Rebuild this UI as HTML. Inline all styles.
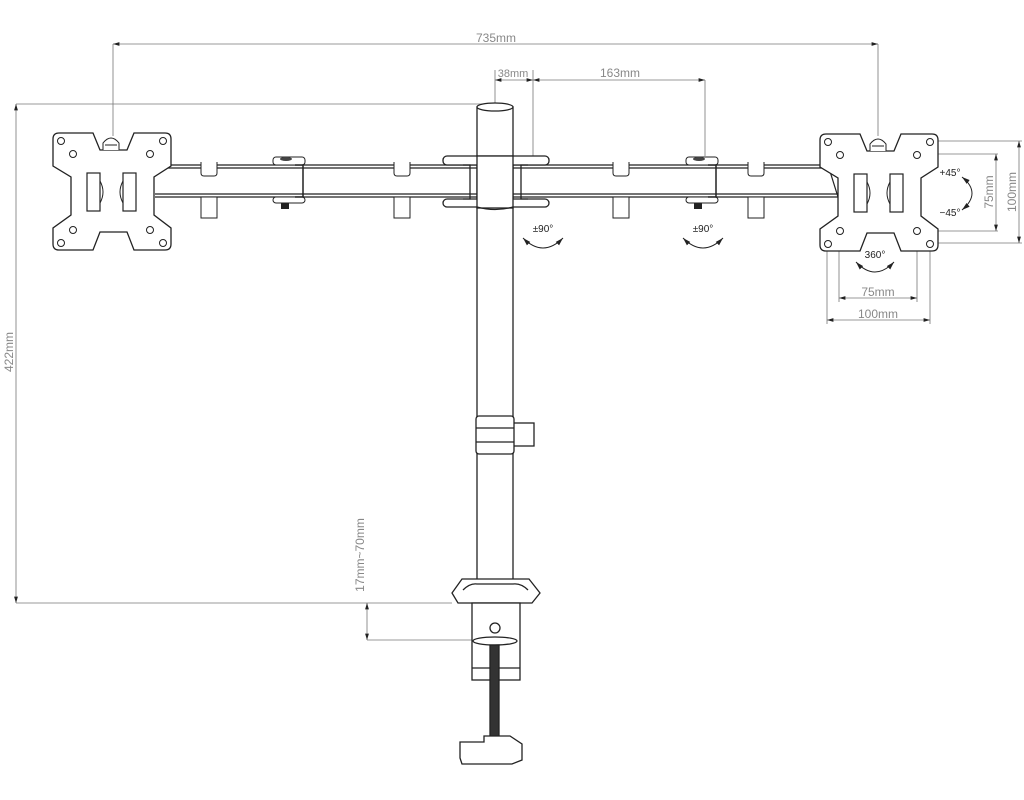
<!DOCTYPE html>
<html><head><meta charset="utf-8"><style>
html,body{margin:0;padding:0;background:#fff;}
svg{display:block;}
text{font-family:"Liberation Sans",sans-serif;fill:#888;}
</style></head><body>
<svg width="1024" height="800" viewBox="0 0 1024 800" xmlns="http://www.w3.org/2000/svg">
<defs>
<marker id="a" viewBox="0 0 10 6" refX="10" refY="3" markerWidth="8" markerHeight="5" orient="auto-start-reverse"><path d="M0,0 L10,3 L0,6 Z" fill="#222"/></marker>
<g id="plate">
<path d="M6,0 H40 L47,17 H74 L81,0 H112 Q118,0 118,6 V33 L101,44 V82 L118,95 V111 Q118,117 112,117 H81 L74,99 H47 L40,117 H6 Q0,117 0,111 V95 L18,82 V44 L0,33 V6 Q0,0 6,0 Z" fill="#fff" stroke="#222" stroke-width="1.3"/>
<circle cx="8" cy="8" r="3.5" fill="none" stroke="#222"/>
<circle cx="110" cy="8" r="3.5" fill="none" stroke="#222"/>
<circle cx="8" cy="110" r="3.5" fill="none" stroke="#222"/>
<circle cx="110" cy="110" r="3.5" fill="none" stroke="#222"/>
<circle cx="20" cy="21" r="3.5" fill="none" stroke="#222"/>
<circle cx="97" cy="21" r="3.5" fill="none" stroke="#222"/>
<circle cx="20" cy="97" r="3.5" fill="none" stroke="#222"/>
<circle cx="97" cy="97" r="3.5" fill="none" stroke="#222"/>
<rect x="34" y="40" width="13" height="38" fill="none" stroke="#222" stroke-width="1.2"/>
<rect x="70" y="40" width="13" height="38" fill="none" stroke="#222" stroke-width="1.2"/>
<path d="M47,48 Q53,59 47,70 M70,48 Q64,59 70,70" fill="none" stroke="#222"/>
<path d="M50,17 V10 Q58,0 66,10 V17" fill="#fff" stroke="#222"/>
<line x1="52" y1="12" x2="64" y2="12" stroke="#222"/>
</g>
<g id="clip">
<path d="M0,-3 V8 Q0,11 3,11 H13 Q16,11 16,8 V-3" fill="#fff" stroke="#222"/>
<rect x="0" y="32" width="16" height="21" fill="#fff" stroke="#222"/>
</g>
<g id="knuckle">
<rect x="0" y="0" width="32" height="8" rx="3" fill="#fff" stroke="#222"/>
<ellipse cx="13" cy="2" rx="6" ry="2" fill="#444"/>
<rect x="0" y="40" width="32" height="6" rx="3" fill="#fff" stroke="#222"/>
<path d="M22,8 H30 V40 H22" fill="none" stroke="#222" stroke-width="1.5"/>
<rect x="8" y="46" width="8" height="6" fill="#222"/>
</g>
</defs>

<!-- dimension lines -->
<g stroke="#777" stroke-width="0.8" fill="none">
<line x1="113" y1="44" x2="878" y2="44" marker-start="url(#a)" marker-end="url(#a)"/>
<line x1="113" y1="44" x2="113" y2="136"/>
<line x1="878" y1="44" x2="878" y2="136"/>
<line x1="495" y1="80" x2="533" y2="80" marker-start="url(#a)" marker-end="url(#a)"/>
<line x1="533" y1="80" x2="705" y2="80" marker-start="url(#a)" marker-end="url(#a)"/>
<line x1="495" y1="70" x2="495" y2="104"/>
<line x1="533" y1="70" x2="533" y2="156"/>
<line x1="705" y1="80" x2="705" y2="156"/>
<line x1="16" y1="104" x2="488" y2="104"/>
<line x1="16" y1="104" x2="16" y2="603" marker-start="url(#a)" marker-end="url(#a)"/>
<line x1="16" y1="603" x2="452" y2="603"/>
<line x1="367" y1="603" x2="367" y2="640" marker-start="url(#a)" marker-end="url(#a)"/>
<line x1="367" y1="640" x2="474" y2="640"/>
<line x1="937" y1="141" x2="1022" y2="141"/>
<line x1="937" y1="243" x2="1022" y2="243"/>
<line x1="1019" y1="141" x2="1019" y2="243" marker-start="url(#a)" marker-end="url(#a)"/>
<line x1="917" y1="154" x2="998" y2="154"/>
<line x1="917" y1="231" x2="998" y2="231"/>
<line x1="996" y1="154" x2="996" y2="231" marker-start="url(#a)" marker-end="url(#a)"/>
<line x1="839" y1="231" x2="839" y2="302"/>
<line x1="917" y1="231" x2="917" y2="302"/>
<line x1="839" y1="298" x2="917" y2="298" marker-start="url(#a)" marker-end="url(#a)"/>
<line x1="827" y1="243" x2="827" y2="324"/>
<line x1="930" y1="243" x2="930" y2="324"/>
<line x1="827" y1="320" x2="930" y2="320" marker-start="url(#a)" marker-end="url(#a)"/>
</g>
<text x="496" y="42" font-size="12" text-anchor="middle">735mm</text>
<text x="513" y="77" font-size="11" text-anchor="middle">38mm</text>
<text x="620" y="77" font-size="12" text-anchor="middle">163mm</text>
<text x="0" y="0" font-size="12" text-anchor="middle" transform="translate(13,352) rotate(-90)">422mm</text>
<text x="0" y="0" font-size="12" text-anchor="middle" transform="translate(364,555) rotate(-90)">17mm~70mm</text>
<text x="0" y="0" font-size="12" text-anchor="middle" transform="translate(1016,192) rotate(-90)">100mm</text>
<text x="0" y="0" font-size="12" text-anchor="middle" transform="translate(993,192) rotate(-90)">75mm</text>
<text x="878" y="296" font-size="12" text-anchor="middle">75mm</text>
<text x="878" y="318" font-size="12" text-anchor="middle">100mm</text>

<!-- arms -->
<g stroke="#222" stroke-width="1.2" fill="none">
<line x1="155" y1="165" x2="478" y2="165"/><line x1="155" y1="168" x2="478" y2="168"/>
<line x1="155" y1="194" x2="478" y2="194"/><line x1="155" y1="197" x2="478" y2="197"/>
<line x1="513" y1="165" x2="828" y2="165"/><line x1="513" y1="168" x2="828" y2="168"/>
<line x1="513" y1="194" x2="838" y2="194"/><line x1="513" y1="197" x2="838" y2="197"/>
<line x1="828" y1="165" x2="838" y2="197"/>
</g>
<use href="#clip" x="201" y="165"/>
<use href="#clip" x="394" y="165"/>
<use href="#clip" x="613" y="165"/>
<use href="#clip" x="748" y="165"/>
<use href="#knuckle" x="273" y="157"/>
<use href="#knuckle" x="686" y="157"/>

<!-- pole -->
<g stroke="#222" stroke-width="1.3" fill="#fff">
<rect x="477" y="107" width="36" height="480"/>
<ellipse cx="495" cy="107" rx="18" ry="4"/>
<rect x="443" y="156" width="106" height="9" rx="4"/>
<rect x="443" y="199" width="106" height="8" rx="4"/>
<rect x="477" y="156" width="36" height="52"/>
<path d="M463,165 H470 V199 H463 M528,165 H521 V199 H528" fill="none"/>
<path d="M477,207 Q495,212 513,207" fill="none"/>
<rect x="513" y="423" width="21" height="23"/>
<rect x="476" y="416" width="38" height="38" rx="3"/>
<line x1="476" y1="428" x2="514" y2="428"/><line x1="476" y1="442" x2="514" y2="442"/>
<path d="M452,593 L462,579 H529 L540,593 L532,603 H458 Z"/>
<path d="M463,590 Q470,583 477,584 H513 Q521,583 528,590" fill="none"/>
<rect x="472" y="603" width="48" height="77"/>
<circle cx="495" cy="628" r="5"/>
<ellipse cx="495" cy="641" rx="22" ry="4"/>
<line x1="472" y1="668" x2="520" y2="668"/>
<rect x="490" y="645" width="9" height="95" fill="#333"/>
<path d="M460,742 H484 V736 H510 L522,744 V760 L512,764 H462 L460,758 Z"/>
</g>

<!-- plates -->
<use href="#plate" x="53" y="133"/>
<use href="#plate" x="820" y="134"/>

<!-- rotation labels -->
<g stroke="#222" stroke-width="1" fill="none">
<path d="M523,238 Q543,258 563,238" marker-start="url(#a)" marker-end="url(#a)"/>
<path d="M683,238 Q703,258 723,238" marker-start="url(#a)" marker-end="url(#a)"/>
<path d="M856,262 Q875,282 894,262" marker-start="url(#a)" marker-end="url(#a)"/>
<path d="M962,177 Q982,193 962,210" marker-start="url(#a)" marker-end="url(#a)"/>
</g>
<g font-size="10" style="fill:#222">
<text x="543" y="232" text-anchor="middle" style="fill:#222">±90°</text>
<text x="703" y="232" text-anchor="middle" style="fill:#222">±90°</text>
<text x="875" y="258" text-anchor="middle" style="fill:#222">360°</text>
<text x="950" y="176" text-anchor="middle" style="fill:#222">+45°</text>
<text x="950" y="216" text-anchor="middle" style="fill:#222">−45°</text>
</g>
</svg>
</body></html>
